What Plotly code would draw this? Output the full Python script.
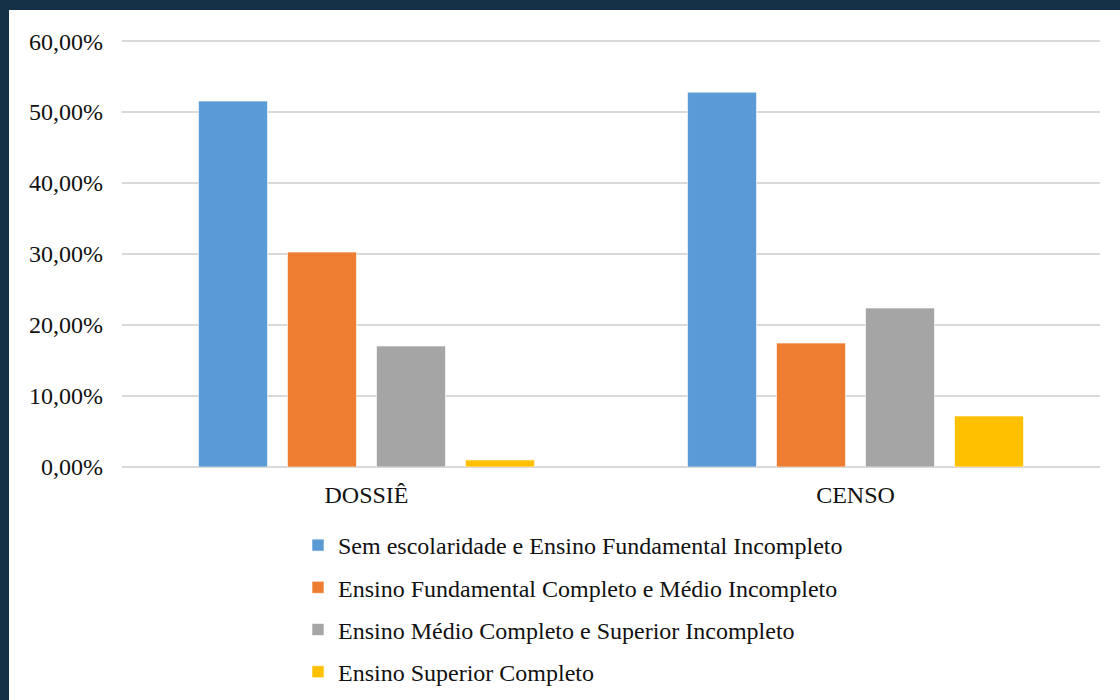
import plotly.graph_objects as go

categorias = ["DOSSIÊ", "CENSO"]
series = [
    "Sem escolaridade e Ensino Fundamental Incompleto",
    "Ensino Fundamental Completo e Médio Incompleto",
    "Ensino Médio Completo e Superior Incompleto",
    "Ensino Superior Completo",
]
valores = [
    [0.5155, 0.528],
    [0.3028, 0.1746],
    [0.1704, 0.2239],
    [0.0099, 0.0718],
]
cores = ["#5b9bd5", "#ed7d31", "#a5a5a5", "#ffc000"]

W, H = 1120, 700
L, R, T, B = 122, 20, 34, 233
pw, ph = W - L - R, H - T - B

def px_x(p):
    return (p - L) / pw

def px_y(p):
    return 1 - (p - T) / ph

fig = go.Figure()
for i, (nome, v, c) in enumerate(zip(series, valores, cores)):
    fig.add_trace(go.Bar(
        name=nome, x=categorias, y=v,
        marker=dict(color=c, line=dict(color="white", width=0.6)),
        legendgroup=f"g{i}",
    ))

font = '"Liberation Serif", "Times New Roman", serif'
fig.update_layout(
    width=W, height=H,
    margin=dict(l=L, r=R, t=T, b=B, autoexpand=False),
    paper_bgcolor="white", plot_bgcolor="white",
    separators=",.",
    barmode="group", bargap=0.272, bargroupgap=0.225,
    font=dict(family=font, size=24, color="#111111"),
    showlegend=True,
    legend=dict(
        orientation="v", x=px_x(298), xanchor="left",
        y=px_y(523), yanchor="top",
        font=dict(family=font, size=24, color="#111111"),
        tracegroupgap=8, bgcolor="rgba(0,0,0,0)",
    ),
    xaxis=dict(showgrid=False, showline=False, ticks="", ticklabelstandoff=11),
    yaxis=dict(
        range=[0, 0.61], tickvals=[0, 0.1, 0.2, 0.3, 0.4, 0.5, 0.6],
        tickformat=".2%",
        showgrid=True, gridcolor="#d9d9d9", gridwidth=1.5,
        zeroline=True, zerolinecolor="#d9d9d9", zerolinewidth=1.5,
        showline=False, ticks="", ticklabelstandoff=18,
    ),
    shapes=[
        dict(type="rect", xref="paper", yref="paper",
             x0=px_x(0), x1=px_x(9), y0=px_y(H), y1=px_y(0),
             fillcolor="#143047", line=dict(width=0)),
        dict(type="rect", xref="paper", yref="paper",
             x0=px_x(0), x1=px_x(W), y0=px_y(10), y1=px_y(0),
             fillcolor="#143047", line=dict(width=0)),
    ],
)

fig.write_html("out.html", config={"displayModeBar": False},
               post_script="document.body.style.margin='0';")
